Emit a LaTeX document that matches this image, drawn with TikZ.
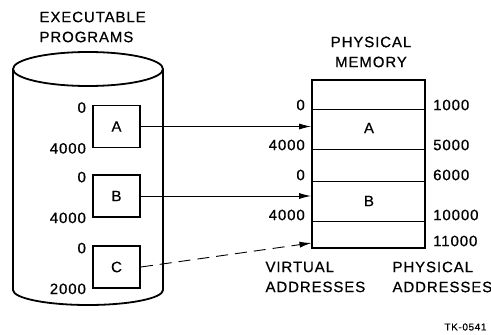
\documentclass[tikz,border=0pt]{standalone}
\usepackage{fontspec}
\setmainfont{Liberation Sans}[LetterSpace=6, FakeBold=0.6]
\usetikzlibrary{arrows.meta,positioning}

\begin{document}
\begin{tikzpicture}[x=1pt, y=-1pt,
    font=\fontsize{15}{20}\selectfont,
    progbox/.style={draw, line width=1.8pt, minimum width=47pt, minimum height=42pt, inner sep=0pt},
    num/.style={inner sep=0pt},
    link/.style={line width=0.9pt, -{Latex[length=12pt,width=6pt]}}]
    \useasboundingbox (0,0) rectangle (491,335);

    % disk with the programs
    \draw[line width=1.8pt] (88,69) ellipse [x radius=75, y radius=17];
    \draw[line width=1.8pt] (13,69) -- (13,290)
        arc[start angle=180, end angle=0, x radius=75, y radius=15] -- (163,69);
    \node[anchor=west, align=left] (disktitle) at (36,27) {EXECUTABLE\\PROGRAMS};

    \node[progbox] (progA) at (116.5,126.5) {A};
    \node[progbox] (progB) at (116.5,196) {B};
    \node[progbox] (progC) at (116.5,267) {C};

    \foreach \p/\n in {A/4000,B/4000,C/2000} {
        \node[num, left=6pt of prog\p.north west, yshift=-3pt] (lo\p) {0};
        \node[num, left=6pt of prog\p.south west] (hi\p) {\n};
    }

    % physical memory
    \node[draw, line width=1.8pt, minimum width=113pt, minimum height=168pt, inner sep=0pt]
        (mem) at (368.5,164) {};
    \node[align=center] (memtitle) at (371,52) {PHYSICAL\\MEMORY};
    \foreach \y in {109,149,181,221}
        \draw[line width=0.9pt] (312,\y) -- (425,\y);
    \node (cellA) at (369,128) {A};
    \node (cellB) at (369,201) {B};

    \foreach \y/\t [count=\i] in {105/0,145/4000,175/0,215/4000}
        \node[num, anchor=east] (virt\i) at (305,\y) {\t};
    \foreach \y/\t [count=\i] in {105/1000,145/5000,175/6000,215/10000,241/11000}
        \node[num, anchor=west] (phys\i) at (433,\y) {\t};

    % mapping
    \coordinate (inC) at (311.5,243);
    \draw[link] (progA.east) -- (progA.east -| mem.west);
    \draw[link] (progB.east) -- (progB.east -| mem.west);
    \draw[link, dash pattern=on 12pt off 7pt] (progC.east) -- (inC);

    \node[anchor=west, align=left] (virtlabel) at (262,277) {VIRTUAL\\ADDRESSES};
    \node[anchor=west, align=left] (physlabel) at (389,277) {PHYSICAL\\ADDRESSES};
    \node[anchor=east, font=\fontsize{10}{12}\selectfont] (tag) at (490,327) {TK-0541};
\end{tikzpicture}
\end{document}
